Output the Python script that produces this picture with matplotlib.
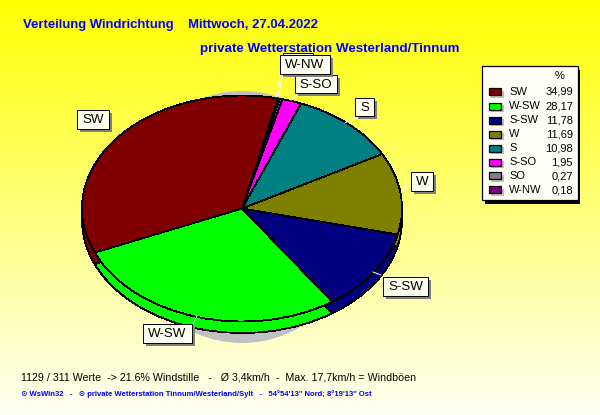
import numpy as np
import matplotlib
matplotlib.use('Agg')
import matplotlib.pyplot as plt
from matplotlib.patches import Rectangle, Ellipse

directions = ['SW', 'W-SW', 'S-SW', 'W', 'S', 'S-SO', 'SO', 'W-NW']
percent = [34.99, 28.17, 11.78, 11.69, 10.98, 1.95, 0.27, 0.18]
colors = ['#800000', '#00FF00', '#000080', '#808000', '#008080', '#FF00FF', '#808080', '#800080']

title_left = 'Verteilung Windrichtung    Mittwoch, 27.04.2022'
title_right = 'private Wetterstation Westerland/Tinnum'
info_line = '1129 / 311 Werte  -> 21.6% Windstille   -   Ø 3,4km/h  -  Max. 17,7km/h = Windböen'
credit_line = '⊙ WsWin32   -   ⊙ private Wetterstation Tinnum/Westerland/Sylt   -   54°54\'13" Nord; 8°19\'13" Ost'

plt.rcParams['font.family'] = ['Liberation Sans', 'DejaVu Sans']

W, H = 600, 415
fig = plt.figure(figsize=(W / 100, H / 100), dpi=100)

# background gradient, yellow to almost white
bg = fig.add_axes([0, 0, 1, 1])
grad = np.ones((H, 1, 3))
grad[:, 0, 2] = np.linspace(0, 0.96, H)
bg.imshow(grad, extent=(0, W, H, 0), aspect='auto')
bg.set_xlim(0, W)
bg.set_ylim(H, 0)
bg.axis('off')
bg.add_patch(Ellipse((242, 217), 240, 252, facecolor='#C0C0C0', edgecolor='none', zorder=2))

# pie, rim first and top surface over it
cx, cy, rx, ry = 242, 208.5, 160, 113
depth = 11.5 / ry
pie_ax = fig.add_axes([0, 0, 1, 1])
pie_ax.patch.set_alpha(0)
edge = {'edgecolor': 'black', 'linewidth': 0.6, 'antialiased': False}
pie_ax.pie(percent, colors=colors, startangle=77, counterclock=True, radius=1,
           center=(0, -depth), wedgeprops=edge)
pie_ax.pie(percent, colors=colors, startangle=77, counterclock=True, radius=1,
           center=(0, 0), wedgeprops=edge)
pie_ax.set_aspect('auto')
pie_ax.set_xlim(-cx / rx, (W - cx) / rx)
pie_ax.set_ylim(-(H - cy) / ry, cy / ry)
pie_ax.axis('off')

# overlay for labels and legend, pixel coordinates
top = fig.add_axes([0, 0, 1, 1])
top.patch.set_alpha(0)
top.set_xlim(0, W)
top.set_ylim(H, 0)
top.axis('off')

top.text(23, 25, title_left, color='#0000FF', fontsize=9.45, fontweight='bold', va='center')
top.text(200, 49, title_right, color='#0000FF', fontsize=9.65, fontweight='bold', va='center')
top.text(21, 377, info_line, color='black', fontsize=7.7, va='center')
top.text(21, 394, credit_line, color='#0000FF', fontsize=5.5, fontweight='bold', va='center')

# leader lines
leaders = [((283, 75), (278, 97)), ((280, 75), (276, 97)), ((296, 94), (291, 100)),
           ((356, 117), (345, 123)), ((411, 185), (402, 190)), ((373, 272), (381, 275)),
           ((197, 316), (193, 324))]
for p0, p1 in leaders:
    top.plot([p0[0], p1[0]], [p0[1], p1[1]], color='white', lw=0.7, zorder=3)


def label_box(x0, y0, x1, y1, text, z=4):
    top.add_patch(Rectangle((x0 + 3, y0 + 3), x1 - x0, y1 - y0, facecolor='#808080',
                            edgecolor='none', zorder=z))
    top.add_patch(Rectangle((x0, y0), x1 - x0, y1 - y0, facecolor='#FFFFF0',
                            edgecolor='black', linewidth=0.7, zorder=z))
    if text:
        top.text((x0 + x1) / 2, (y0 + y1) / 2 + 0.5, text, fontsize=9.6, ha='center', va='center',
                 zorder=z + 1)


# the SO box sits behind W-NW, only its top edge shows
label_box(283, 53, 313, 70, '')
label_box(280, 55, 330, 74, 'W-NW', z=6)
label_box(295, 75, 337, 93, 'S-SO')
label_box(355, 98, 374, 116, 'S')
label_box(77, 110, 109, 129, 'SW')
label_box(411, 172, 433, 191, 'W')
label_box(383, 277, 428, 296, 'S-SW')
label_box(143, 324, 192, 343, 'W-SW')

# legend
top.add_patch(Rectangle((485, 70), 95, 134, facecolor='black', edgecolor='none', zorder=4))
top.add_patch(Rectangle((481.5, 66.5), 96, 134, facecolor='#FFFFF8', edgecolor='black',
                        linewidth=0.9, zorder=4))
top.text(560, 76, '%', fontsize=8, ha='center', va='center', zorder=5)
for i, (name, val, col) in enumerate(zip(directions, percent, colors)):
    y = 92 + 14 * i
    top.add_patch(Rectangle((491, y - 1), 13, 7, facecolor='#C0C0C0', edgecolor='none', zorder=5))
    top.add_patch(Rectangle((488.5, y - 3.5), 12, 7, facecolor=col, edgecolor='black',
                            linewidth=0.9, zorder=6))
    top.text(509, y, name, fontsize=8, va='center', zorder=6)
    top.text(573, y, f'{val:.2f}'.replace('.', ','), fontsize=8, ha='right', va='center', zorder=6)

fig.savefig('out.png', dpi=100)
